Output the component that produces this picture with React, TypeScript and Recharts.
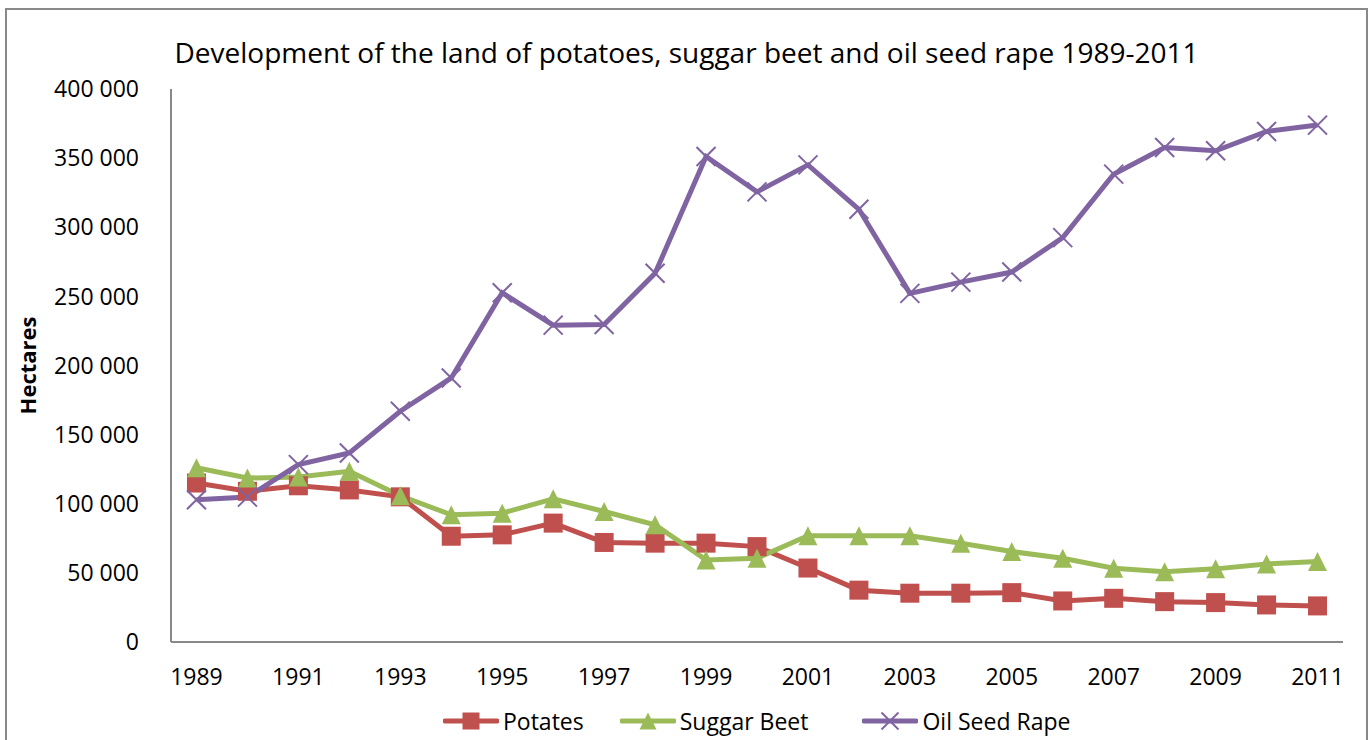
import React from 'react';
import { LineChart, Line, XAxis, YAxis, Legend } from 'recharts';

const years = [
  '1989', '1990', '1991', '1992', '1993', '1994', '1995', '1996', '1997', '1998', '1999', '2000',
  '2001', '2002', '2003', '2004', '2005', '2006', '2007', '2008', '2009', '2010', '2011',
];
const potatoes = [
  115000, 109000, 113000, 110000, 105000, 76500, 77500, 86000, 72000, 71500, 71500, 69000,
  53500, 37500, 35300, 35300, 35700, 29700, 31600, 29200, 28500, 26800, 26100,
];
const sugarBeet = [
  126000, 118600, 119300, 123500, 105800, 92000, 93200, 103600, 94400, 84800, 59400, 60600,
  76800, 76800, 76800, 71500, 65400, 60600, 53400, 50900, 52900, 56500, 58200,
];
const oilSeedRape = [
  102900, 104800, 128300, 136700, 166900, 191000, 252600, 229200, 229700, 266700, 351200, 325600,
  345100, 313000, 252200, 260300, 267600, 292500, 338400, 357700, 355300, 369300, 373900,
];
const yTicks = [0, 50000, 100000, 150000, 200000, 250000, 300000, 350000, 400000];
const seriesOrder = ['potatoes', 'sugarBeet', 'oilSeedRape'];
const seriesNames: Record<string, string> = { potatoes: 'Potates', sugarBeet: 'Suggar Beet', oilSeedRape: 'Oil Seed Rape' };

const data = years.map((year, i) => ({
  year,
  potatoes: potatoes[i],
  sugarBeet: sugarBeet[i],
  oilSeedRape: oilSeedRape[i],
}));

const RED = '#C0504D';
const GREEN = '#9BBB59';
const PURPLE = '#8064A2';
const FONT = '"Open Sans", sans-serif';
const kinds: Record<string, string> = { potatoes: 'square', sugarBeet: 'triangle', oilSeedRape: 'cross' };
const colors: Record<string, string> = { potatoes: RED, sugarBeet: GREEN, oilSeedRape: PURPLE };

const fmt = (v: number) => String(v).replace(/\B(?=(\d{3})+(?!\d))/g, ' ');

function Marker({ kind, cx, cy, s, color }: { kind: string; cx: number; cy: number; s: number; color: string }) {
  if (cx == null || cy == null) return null;
  const h = s / 2;
  if (kind === 'square') {
    return <rect x={cx - h} y={cy - h} width={s} height={s} fill={color} />;
  }
  if (kind === 'triangle') {
    return <polygon points={`${cx},${cy - h} ${cx + h},${cy + h} ${cx - h},${cy + h}`} fill={color} />;
  }
  return (
    <g stroke={color} strokeWidth={2}>
      <line x1={cx - h} y1={cy - h} x2={cx + h} y2={cy + h} />
      <line x1={cx - h} y1={cy + h} x2={cx + h} y2={cy - h} />
    </g>
  );
}

const makeDot = (key: string) => (p: any) => (
  <g key={`${key}-${p.index}`}>
    <Marker kind={kinds[key]} cx={p.cx} cy={p.cy} s={19} color={colors[key]} />
  </g>
);

const legendGaps = [36, 54, 0];

const renderLegend = (props: any) => {
  const payload = [...(props.payload || [])].sort(
    (a: any, b: any) => seriesOrder.indexOf(a.dataKey) - seriesOrder.indexOf(b.dataKey)
  );
  return (
    <div style={{ display: 'flex', alignItems: 'center', fontFamily: FONT, fontSize: 23, color: '#000', lineHeight: '30px', whiteSpace: 'nowrap' }}>
      {payload.map((e: any, i: number) => (
        <div key={e.value} style={{ display: 'flex', alignItems: 'center', marginRight: legendGaps[i] }}>
          <svg width={56} height={22}>
            <line x1={2} y1={11} x2={54} y2={11} stroke={colors[e.dataKey]} strokeWidth={5} strokeLinecap="round" />
            <Marker kind={kinds[e.dataKey]} cx={28} cy={11} s={17} color={colors[e.dataKey]} />
          </svg>
          <span style={{ marginLeft: 4 }}>{e.value}</span>
        </div>
      ))}
    </div>
  );
};

const tickStyle = { fill: '#000', fontSize: 23, fontFamily: FONT };

export default function App() {
  return (
    <div style={{ position: 'absolute', left: 0, top: 0, width: 1372, height: 740, overflow: 'hidden', background: '#fff' }}>
      <div
        style={{
          position: 'absolute',
          left: 5,
          top: 8,
          width: 1363,
          height: 760,
          border: '2px solid #898989',
          boxSizing: 'border-box',
          pointerEvents: 'none',
        }}
      />
      <div
        style={{
          position: 'absolute',
          left: 0,
          top: 36,
          width: 1373,
          textAlign: 'center',
          fontFamily: FONT,
          fontSize: 28,
          lineHeight: '32px',
          color: '#000',
        }}
      >
        Development of the land of potatoes, suggar beet and oil seed rape 1989-2011
      </div>
      <LineChart width={1372} height={740} data={data} margin={{ top: 89, right: 29, bottom: 68, left: 0 }}>
        <XAxis
          dataKey="year"
          scale="band"
          height={30}
          interval={1}
          tickLine={false}
          tickSize={0}
          tickMargin={27}
          axisLine={{ stroke: '#898989', strokeWidth: 2 }}
          tick={tickStyle}
        />
        <YAxis
          width={171}
          domain={[0, 400000]}
          ticks={yTicks}
          tickFormatter={fmt}
          tickLine={false}
          tickSize={0}
          tickMargin={32}
          axisLine={{ stroke: '#898989', strokeWidth: 2 }}
          tick={tickStyle}
          label={{
            value: 'Hectares',
            angle: -90,
            position: 'insideLeft',
            offset: 28,
            style: { textAnchor: 'middle', fontWeight: 700, fontSize: 22, fontFamily: FONT, fill: '#000' },
          }}
        />
        <Legend
          layout="horizontal"
          verticalAlign="middle"
          align="center"
          content={renderLegend}
          wrapperStyle={{ left: 443, top: 706, width: 'auto' }}
        />
        <Line
          type="linear"
          dataKey="potatoes"
          name={seriesNames.potatoes}
          stroke={RED}
          strokeWidth={5}
          dot={makeDot('potatoes')}
          activeDot={false}
          isAnimationActive={false}
        />
        <Line
          type="linear"
          dataKey="sugarBeet"
          name={seriesNames.sugarBeet}
          stroke={GREEN}
          strokeWidth={5}
          dot={makeDot('sugarBeet')}
          activeDot={false}
          isAnimationActive={false}
        />
        <Line
          type="linear"
          dataKey="oilSeedRape"
          name={seriesNames.oilSeedRape}
          stroke={PURPLE}
          strokeWidth={5}
          dot={makeDot('oilSeedRape')}
          activeDot={false}
          isAnimationActive={false}
        />
      </LineChart>
    </div>
  );
}
